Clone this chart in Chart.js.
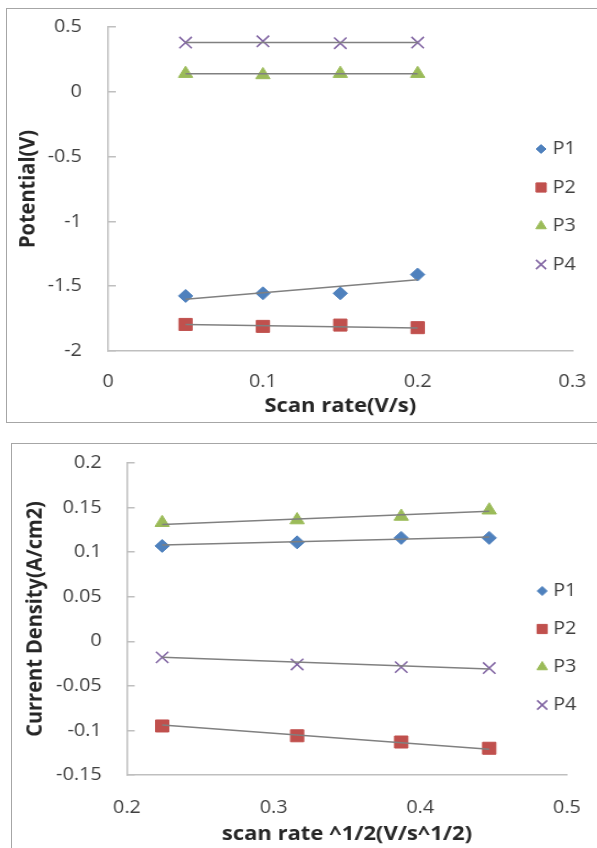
<!DOCTYPE html>
<html>
<head>
<meta charset="utf-8">
<script src="https://cdn.jsdelivr.net/npm/chart.js@4.4.0/dist/chart.umd.min.js"></script>
<style>
  html, body { margin: 0; padding: 0; background: #fff; overflow: hidden; width: 597px; height: 848px; }
  .box { position: absolute; border: 1.5px solid #a6a6a6; box-sizing: border-box; background: #fff; }
  #box1 { left: 6px; top: 8px; width: 640px; height: 415px; }
  #box2 { left: 11px; top: 443px; width: 640px; height: 440px; }
  /* the source picture is slightly stretched sideways */
  canvas { position: absolute; transform: scaleX(1.1); transform-origin: 0 0; }
  #potChart { left: 7px; top: 9px; }
  #cdChart { left: 12px; top: 444px; }
</style>
</head>
<body>
<div class="box" id="box1"></div>
<div class="box" id="box2"></div>
<canvas id="potChart" width="536" height="412"></canvas>
<canvas id="cdChart" width="536" height="404"></canvas>
<script>
// --- Data ---
const seriesNames = ['P1', 'P2', 'P3', 'P4'];

// top chart: potential vs scan rate
const scanRate = [0.05, 0.1, 0.15, 0.2];
const potP1 = [-1.575, -1.555, -1.555, -1.41];
const potP2 = [-1.795, -1.81, -1.80, -1.82];
const potP3 = [0.14, 0.13, 0.14, 0.14];
const potP4 = [0.38, 0.39, 0.375, 0.38];
// trendline end points (x = first and last scan rate)
const potTrendX = [0.05, 0.2];
const potTrendP1 = [-1.60, -1.45];
const potTrendP2 = [-1.795, -1.822];
const potTrendP3 = [0.14, 0.14];
const potTrendP4 = [0.38, 0.38];
const potXTicks = [0, 0.1, 0.2, 0.3];
const potYTicks = [-2, -1.5, -1, -0.5, 0, 0.5];

// bottom chart: current density vs sqrt(scan rate)
const sqrtRate = [0.224, 0.316, 0.387, 0.447];
const cdP1 = [0.107, 0.111, 0.116, 0.116];
const cdP2 = [-0.095, -0.106, -0.113, -0.120];
const cdP3 = [0.133, 0.136, 0.140, 0.147];
const cdP4 = [-0.018, -0.026, -0.029, -0.030];
const cdTrendX = [0.224, 0.447];
const cdTrendP1 = [0.108, 0.117];
const cdTrendP2 = [-0.094, -0.121];
const cdTrendP3 = [0.131, 0.146];
const cdTrendP4 = [-0.018, -0.031];
const cdXTicks = [0.2, 0.3, 0.4, 0.5];
const cdYTicks = [-0.15, -0.1, -0.05, 0, 0.05, 0.1, 0.15, 0.2];

// --- Styles ---
const FONT = "'Open Sans', sans-serif";
const axisGray = '#bfbfbf';
const tickColor = '#404040';
const titleColor = '#262626';
const trendColor = '#808080';
const markers = [
  { style: 'rectRot', color: '#4f81bd', radius: 6.5, legendRadius: 4.5, border: 1 },
  { style: 'rect', color: '#c0504d', radius: 8.5, legendRadius: 6.5, border: 1 },
  { style: 'triangle', color: '#9bbb59', radius: 7.5, legendRadius: 5.5, border: 1 },
  { style: 'crossRot', color: '#8064a2', radius: 8, legendRadius: 6.5, border: 1.5 }
];

const toPoints = (xs, ys) => xs.map((x, i) => ({ x, y: ys[i] }));

function buildDatasets(xs, series, trendX, trends) {
  const sets = [];
  series.forEach((ys, i) => {
    const m = markers[i];
    sets.push({
      label: seriesNames[i],
      data: toPoints(xs, ys),
      showLine: false,
      pointStyle: m.style,
      pointRadius: m.radius,
      pointBackgroundColor: m.color,
      pointBorderColor: m.color,
      pointBorderWidth: m.border,
      order: 2
    });
  });
  trends.forEach((ys) => {
    sets.push({
      data: toPoints(trendX, ys),
      showLine: true,
      borderColor: trendColor,
      borderWidth: 1.5,
      pointRadius: 0,
      order: 1
    });
  });
  return sets;
}

// legend drawn on the right, overlapping the empty end of the plot like in the source
const sideLegend = {
  id: 'sideLegend',
  afterDraw(chart, args, opts) {
    const ctx = chart.ctx;
    ctx.save();
    ctx.font = '18px ' + FONT;
    ctx.textBaseline = 'middle';
    ctx.textAlign = 'left';
    seriesNames.forEach((name, i) => {
      const m = markers[i];
      const y = opts.top + i * opts.gap;
      ctx.fillStyle = m.color;
      ctx.strokeStyle = m.color;
      ctx.lineWidth = m.border;
      Chart.helpers.drawPoint(ctx, { pointStyle: m.style, radius: m.legendRadius, borderWidth: m.border, rotation: 0 }, opts.x, y);
      ctx.fillStyle = tickColor;
      ctx.fillText(name, opts.textX, y);
    });
    ctx.restore();
  }
};

function makeOptions(cfg) {
  return {
    responsive: false,
    animation: false,
    layout: { padding: { top: cfg.padTop, right: cfg.padRight, left: 0, bottom: 0 } },
    plugins: {
      legend: { display: false },
      tooltip: { enabled: false },
      sideLegend: cfg.legend
    },
    scales: {
      x: {
        type: 'linear',
        min: cfg.xTicks[0],
        max: cfg.xTicks[cfg.xTicks.length - 1],
        afterBuildTicks: (s) => { s.ticks = cfg.xTicks.map(v => ({ value: v })); },
        afterFit: (s) => { s.height = cfg.xHeight; s.paddingLeft = 0; s.paddingRight = 0; },
        grid: { drawOnChartArea: false, drawTicks: false },
        border: { color: axisGray, width: 1.5 },
        ticks: { padding: cfg.xTickPad, color: tickColor, font: { family: FONT, size: 18 }, callback: v => String(v) },
        title: {
          display: true,
          text: cfg.xTitle,
          color: titleColor,
          font: { family: FONT, size: 20, weight: 'bold' },
          padding: { top: 0, bottom: cfg.xTitlePad }
        }
      },
      y: {
        type: 'linear',
        min: cfg.yTicks[0],
        max: cfg.yTicks[cfg.yTicks.length - 1],
        afterBuildTicks: (s) => { s.ticks = cfg.yTicks.map(v => ({ value: v })); },
        afterFit: (s) => { s.width = cfg.yWidth; s.paddingTop = 0; s.paddingBottom = 0; },
        grid: { drawOnChartArea: false, drawTicks: true, tickLength: -7, color: axisGray, lineWidth: 1.5 },
        border: { color: axisGray, width: 1.5 },
        ticks: { padding: cfg.yTickPad, color: tickColor, font: { family: FONT, size: 18 }, callback: v => String(v) },
        title: {
          display: true,
          text: cfg.yTitle,
          color: titleColor,
          font: { family: FONT, size: 20, weight: 'bold' },
          padding: { top: cfg.yTitlePad, bottom: 0 }
        }
      }
    }
  };
}

new Chart(document.getElementById('potChart'), {
  type: 'scatter',
  data: {
    datasets: buildDatasets(scanRate, [potP1, potP2, potP3, potP4], potTrendX,
      [potTrendP1, potTrendP2, potTrendP3, potTrendP4])
  },
  options: makeOptions({
    padTop: 18, padRight: 22, xHeight: 70, yWidth: 92,
    xTicks: potXTicks, yTicks: potYTicks,
    xTickPad: 20, yTickPad: 31, xTitle: 'Scan rate(V/s)', xTitlePad: 3,
    yTitle: 'Potential(V)', yTitlePad: 7,
    legend: { x: 485.5, textX: 496, top: 140, gap: 38.5 }
  }),
  plugins: [sideLegend]
});

new Chart(document.getElementById('cdChart'), {
  type: 'scatter',
  data: {
    datasets: buildDatasets(sqrtRate, [cdP1, cdP2, cdP3, cdP4], cdTrendX,
      [cdTrendP1, cdTrendP2, cdTrendP3, cdTrendP4])
  },
  options: makeOptions({
    padTop: 19, padRight: 31.5, xHeight: 73, yWidth: 104.5,
    xTicks: cdXTicks, yTicks: cdYTicks,
    xTickPad: 22, yTickPad: 30, xTitle: 'scan rate ^1/2(V/s^1/2)', xTitlePad: 2,
    yTitle: 'Current Density(A/cm2)', yTitlePad: 9,
    legend: { x: 482, textX: 492, top: 147, gap: 38 }
  }),
  plugins: [sideLegend]
});
</script>
</body>
</html>
